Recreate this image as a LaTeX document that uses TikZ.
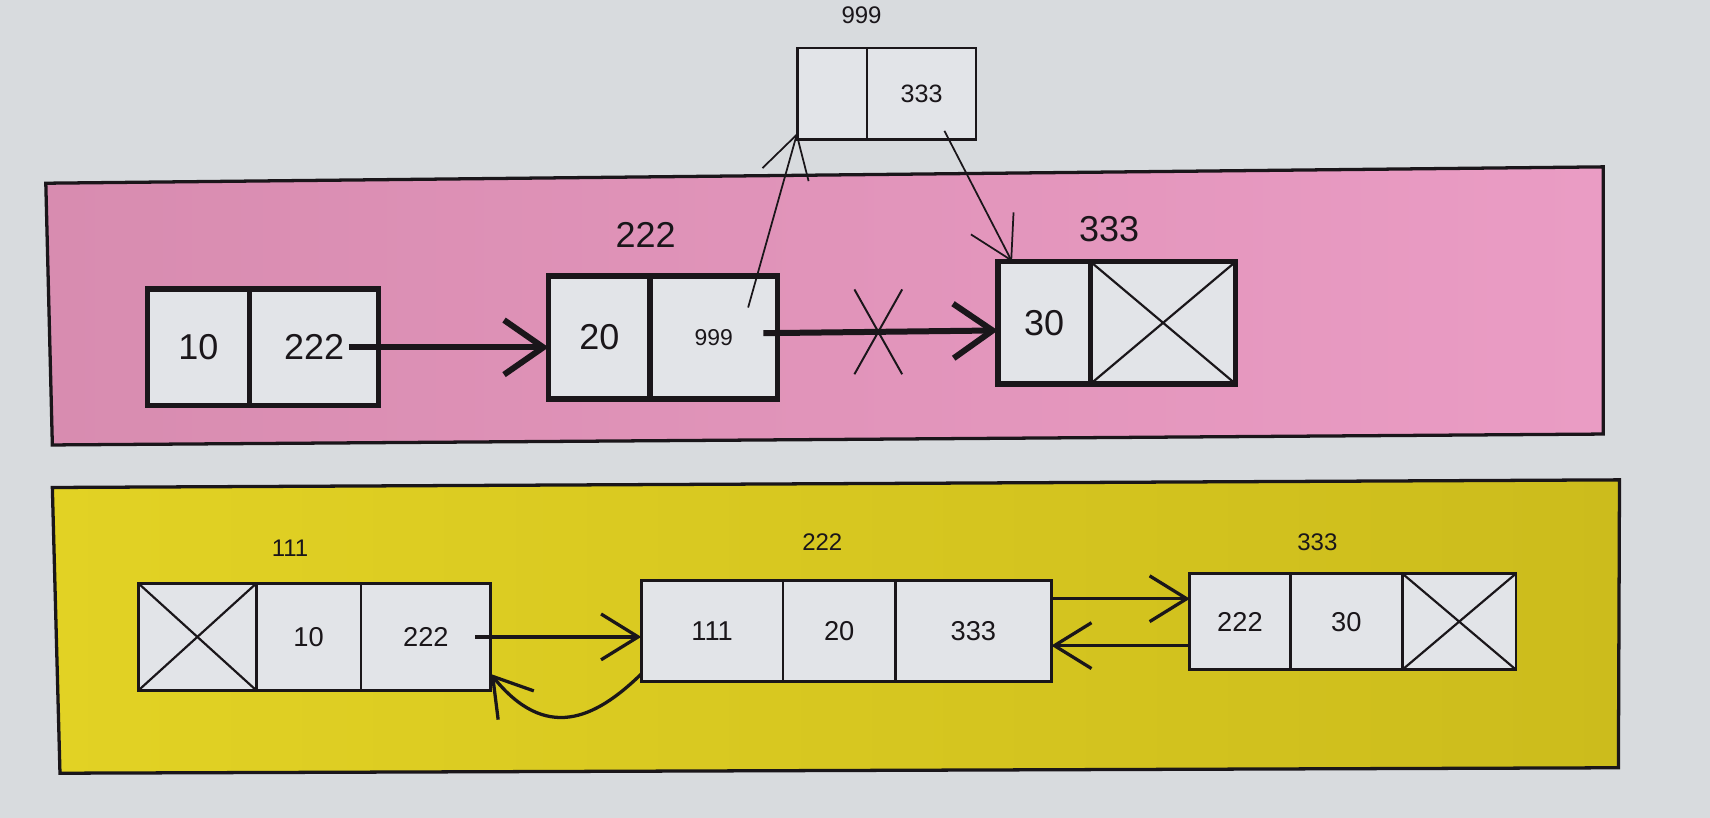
\documentclass[tikz,border=0pt]{standalone}
\usepackage{fontspec}
\setmainfont{Liberation Sans}
\usepackage{tikz}
\usetikzlibrary{arrows.meta,positioning,shapes.misc}
\definecolor{screengray}{RGB}{216,219,222}
\definecolor{pinkleft}{RGB}{216,140,176}
\definecolor{pinkright}{RGB}{234,156,196}
\definecolor{yellowleft}{RGB}{226,210,36}
\definecolor{yellowright}{RGB}{204,188,28}
\definecolor{cellgray}{RGB}{226,228,232}
\definecolor{inkblack}{RGB}{26,22,26}

\begin{document}
\begin{tikzpicture}[x=1pt, y=-1pt,
  cell/.style={rectangle, draw=inkblack, fill=cellgray, text=inkblack, inner sep=0pt, outer sep=0pt, anchor=north west},
  pinkcell/.style={cell, line width=5pt, font=\fontsize{33}{36}\selectfont},
  yellowcell/.style={cell, line width=2.5pt, font=\fontsize{25}{28}\selectfont},
  topcell/.style={cell, line width=2.5pt, font=\fontsize{23}{26}\selectfont},
  nullcell/.style={path picture={\draw[inkblack, line width=2pt] (path picture bounding box.north west) -- (path picture bounding box.south east) (path picture bounding box.south west) -- (path picture bounding box.north east);}},
  bigaddr/.style={text=inkblack, font=\fontsize{33}{36}\selectfont},
  smalladdr/.style={text=inkblack, font=\fontsize{22}{24}\selectfont},
  cut/.style={cross out, draw=inkblack, line width=1.8pt, minimum width=42pt, minimum height=76pt, inner sep=0pt},
  bigarrow/.style={inkblack, line width=5.5pt, -{Straight Barb[length=36pt, width=50pt]}},
  midarrow/.style={inkblack, line width=3pt, -{Straight Barb[length=34pt, width=42pt]}},
  thinarrow/.style={inkblack, line width=1.6pt, -{Straight Barb[length=38pt, width=44pt]}}]

  \useasboundingbox (0,0) rectangle (1568,750);
  \fill[screengray] (0,0) rectangle (1568,750);
  \draw[inkblack, line width=3pt, left color=pinkleft, right color=pinkright] (42,168) -- (1470,153) -- (1470,398) -- (48,408) -- cycle;
  \draw[inkblack, line width=3pt, left color=yellowleft, right color=yellowright] (48,447) -- (1485,440) -- (1484,704) -- (55,709) -- cycle;

  \node[topcell, minimum width=64pt, minimum height=84pt] (newData) at (731,44) {};
  \node[topcell, minimum width=100pt, minimum height=84pt, right=0pt of newData] (newNext) {333};
  \node[smalladdr] (newAddr) at (790,14) {999};

  \node[pinkcell, minimum width=94pt, minimum height=107pt] (tenData) at (135,265) {10};
  \node[pinkcell, minimum width=118pt, minimum height=107pt, right=0pt of tenData] (tenNext) {222};
  \node[pinkcell, minimum width=93pt, minimum height=113pt] (twentyData) at (503,253) {20};
  \node[pinkcell, minimum width=117pt, minimum height=113pt, right=0pt of twentyData, font=\fontsize{21}{24}\selectfont] (twentyNext) {999};
  \node[pinkcell, minimum width=85pt, minimum height=112pt] (thirtyData) at (915,240) {30};
  \node[pinkcell, nullcell, minimum width=133pt, minimum height=112pt, right=0pt of thirtyData] (thirtyNext) {};
  \node[bigaddr] (twentyAddr) at (592,215) {222};
  \node[bigaddr] (thirtyAddr) at (1017,210) {333};

  \draw[bigarrow] ([xshift=-27pt]tenNext.east) -- (tenNext.east -| twentyData.west);
  \draw[bigarrow] ([xshift=-13pt, yshift=4pt]twentyNext.east) -- node[cut, pos=0.49] {} ([yshift=-7pt]thirtyData.west);
  \draw[thinarrow] ([xshift=-27pt, yshift=27.5pt]twentyNext.east) -- ([yshift=6pt]newData.south west);
  \draw[thinarrow] ([xshift=-29pt, yshift=8pt]newNext.south east) -- ([xshift=13pt]thirtyData.north west);

  \node[yellowcell, nullcell, minimum width=108pt, minimum height=98pt] (aPrev) at (127,535) {};
  \node[yellowcell, minimum width=96pt, minimum height=98pt, right=0pt of aPrev] (aData) {10};
  \node[yellowcell, minimum width=119pt, minimum height=98pt, right=0pt of aData] (aNext) {222};
  \node[smalladdr] (aAddr) at (266,503) {111};

  \node[yellowcell, minimum width=130pt, minimum height=93pt] (bPrev) at (588,532) {111};
  \node[yellowcell, minimum width=103pt, minimum height=93pt, right=0pt of bPrev] (bData) {20};
  \node[yellowcell, minimum width=143pt, minimum height=93pt, right=0pt of bData] (bNext) {333};
  \node[smalladdr] (bAddr) at (754,497) {222};

  \node[yellowcell, minimum width=92pt, minimum height=88pt] (cPrev) at (1091,526) {222};
  \node[yellowcell, minimum width=103pt, minimum height=88pt, right=0pt of cPrev] (cData) {30};
  \node[yellowcell, nullcell, minimum width=104pt, minimum height=88pt, right=0pt of cData] (cNext) {};
  \node[smalladdr] (cAddr) at (1208,497) {333};

  \draw[midarrow] ([xshift=-14pt]aNext.east) -- (aNext.east -| bPrev.west);
  \draw[midarrow] ([yshift=7pt]bPrev.south west) .. controls (545,660) and (500,680) .. ([yshift=-34pt]aNext.east);
  \draw[midarrow] ([yshift=29.5pt]bNext.east) -- ([yshift=21pt]cPrev.west);
  \draw[midarrow] ([yshift=-22pt]cPrev.west) -- ([yshift=-13.5pt]bNext.east);
\end{tikzpicture}
\end{document}
